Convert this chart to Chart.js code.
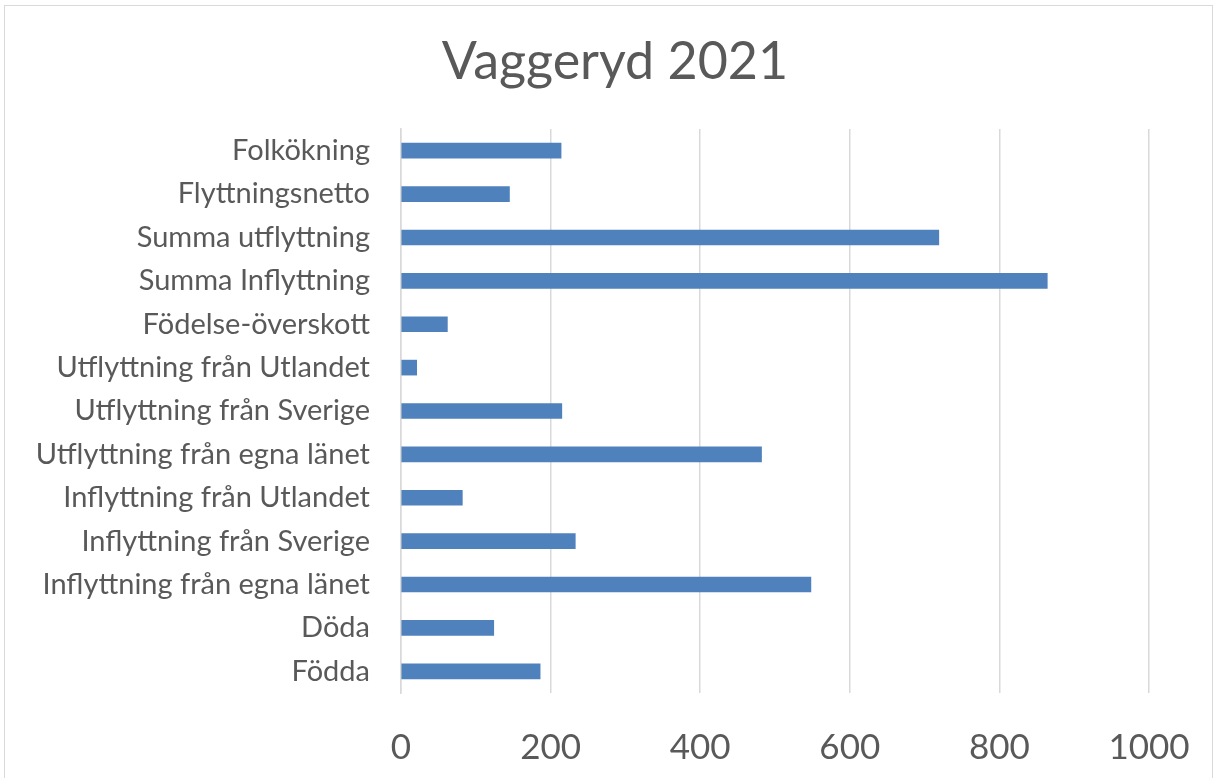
<!DOCTYPE html>
<html>
<head>
<meta charset="utf-8">
<script src="https://cdn.jsdelivr.net/npm/chart.js@4"></script>
<style>
  html, body { margin: 0; padding: 0; background: #fff; }
  #wrap { width: 1215px; height: 778px; position: relative; }
</style>
</head>
<body>
<div id="wrap"><canvas id="vaggerydChart" width="1215" height="778"></canvas></div>
<script>
// Categories (top to bottom, as in the original chart)
const categories = [
    'Folkökning',
    'Flyttningsnetto',
    'Summa utflyttning',
    'Summa Inflyttning',
    'Födelse-överskott',
    'Utflyttning från Utlandet',
    'Utflyttning från Sverige',
    'Utflyttning från egna länet',
    'Inflyttning från Utlandet',
    'Inflyttning från Sverige',
    'Inflyttning från egna länet',
    'Döda',
    'Födda'
];

// Values
const values = [214, 145, 719, 864, 62, 21, 215, 482, 82, 233, 548, 124, 186];

// x-axis ticks
const xTicks = [0, 200, 400, 600, 800, 1000];

const chartTitle = 'Vaggeryd 2021';

const fontFamily = 'Lato, "Open Sans", sans-serif';
const textColor = '#595959';
const gridColor = '#d9d9d9';

// Frame round the chart + the title, centred a bit right of the canvas middle
// like in the Excel original (the built-in title can't be offset)
const frameAndTitle = {
    id: 'frameAndTitle',
    beforeDraw(chart) {
        const c = chart.ctx;
        c.save();
        c.strokeStyle = '#d9d9d9';
        c.lineWidth = 1;
        c.strokeRect(4.5, 5.5, 1208, 800);
        c.fillStyle = textColor;
        c.font = `52px ${fontFamily}`;
        c.textAlign = 'center';
        c.textBaseline = 'middle';
        c.fillText(chartTitle, 615, 62);
        c.restore();
    }
};

const ctx = document.getElementById('vaggerydChart').getContext('2d');

new Chart(ctx, {
    type: 'bar',
    data: {
        labels: categories,
        datasets: [{
            label: chartTitle,
            data: values,
            backgroundColor: '#4f81bd',
            barThickness: 15
        }]
    },
    options: {
        indexAxis: 'y',
        responsive: false,
        animation: false,
        layout: {
            padding: { top: 129, right: 66, bottom: 0, left: 0 }
        },
        plugins: {
            legend: { display: false },
            tooltip: { enabled: false },
            title: { display: false }
        },
        scales: {
            x: {
                min: 0,
                max: 1000,
                afterBuildTicks: (scale) => {
                    scale.ticks = xTicks.map(v => ({ value: v }));
                },
                afterFit: (scale) => {
                    scale.height = 85;
                    // no extra room for the outer tick labels
                    scale.paddingLeft = 0;
                    scale.paddingRight = 0;
                },
                grid: {
                    color: gridColor,
                    lineWidth: 1.5,
                    drawTicks: false
                },
                border: { display: false },
                ticks: {
                    color: textColor,
                    padding: 34,
                    maxRotation: 0,
                    callback: (v) => String(v),
                    font: { family: fontFamily, size: 35 }
                }
            },
            y: {
                afterFit: (scale) => { scale.width = 401; },
                grid: { display: false, drawTicks: false },
                border: { display: true, color: gridColor, width: 1.5 },
                ticks: {
                    color: textColor,
                    padding: 31,
                    autoSkip: false,
                    font: { family: fontFamily, size: 29 }
                }
            }
        }
    },
    plugins: [frameAndTitle]
});
</script>
</body>
</html>
